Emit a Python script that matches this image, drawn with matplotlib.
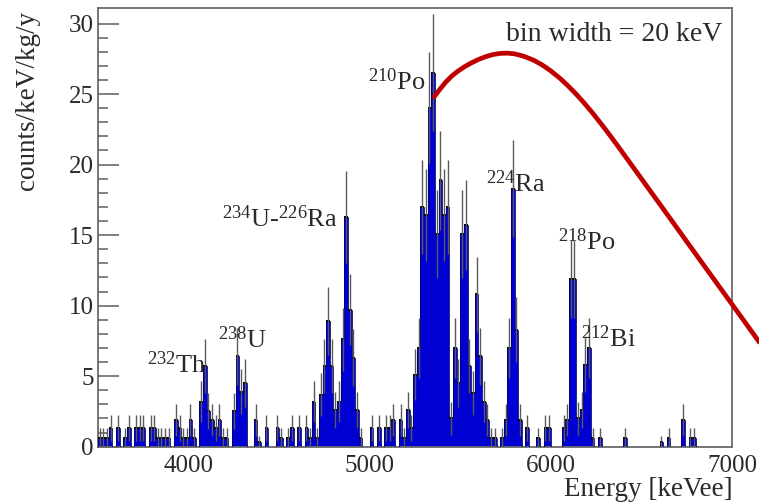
import numpy as np
import matplotlib
matplotlib.use("Agg")
import matplotlib.pyplot as plt

# ---------------- data (counts/keV/kg/y per 20 keV bin) ----------------
energy_start = 3500   # keV, first bin low edge
bin_width = 20        # keV
rate_3500_3980 = [0.65, 0.65, 0.65, 1.3, 0, 1.3, 0, 0.65, 1.3, 0, 1.3, 1.3, 1.3, 0,
                  1.3, 1.3, 0.65, 0.65, 0.65, 0.65, 0, 1.9, 1.3, 0.65, 0.65]
rate_4000_4480 = [1.9, 0.65, 0, 3.2, 5.7, 2.55, 1.9, 1.3, 1.9, 0.65, 0.65, 0, 2.55,
                  6.4, 3.9, 4.5, 0, 0, 1.9, 0.3, 0, 1.3, 0, 0, 1.3]
rate_4500_4980 = [0.65, 0, 0.65, 1.3, 0, 1.3, 0, 1.3, 0.65, 3.2, 0.65, 3.7, 5.7,
                  8.9, 5.7, 2.6, 3.2, 7.6, 16.3, 9.7, 6.3, 2.6, 0.65, 0, 0]
rate_5000_5480 = [1.3, 0, 1.3, 0, 1.3, 1.3, 1.9, 0, 1.9, 0.65, 2.6, 1.3, 5.1, 7.0,
                  17.0, 16.4, 24.0, 26.5, 15.1, 18.9, 16.4, 17.0, 2.0, 7.0, 4.5]
rate_5500_5980 = [15.1, 15.7, 5.7, 3.8, 10.8, 6.4, 3.2, 1.9, 0.65, 0.65, 0, 0.65,
                  1.9, 7.0, 18.3, 8.3, 1.9, 0, 1.3, 0, 0, 0.65, 0, 1.3, 1.3]
rate_6000_6480 = [0, 0, 0, 1.3, 1.9, 11.9, 11.9, 2.0, 2.6, 5.8, 7.0, 0.65, 0, 0.65,
                  0, 0, 0, 0, 0, 0, 0.65, 0, 0, 0, 0]
rate_6500_6980 = [0, 0, 0, 0, 0, 0.3, 0, 0.65, 0, 0, 0, 1.9, 0, 0.65, 0.65, 0, 0,
                  0, 0, 0, 0, 0, 0, 0, 0]
rate_per_count = 0.65  # rate of a single count in a bin (for Poisson errors)

# red curve
curve_energy = [5350, 5385, 5420, 5455, 5490, 5525, 5560, 5600, 5640, 5680, 5720,
                5760, 5800, 5850, 5905, 5950, 6000, 6050, 6095, 6140, 6185, 6230,
                6280, 6325, 6370, 6415, 6460, 6510, 6555, 6600, 6650, 6695, 6740,
                6785, 6830, 6875, 6920, 6965, 7010, 7050, 7090, 7125, 7160]
curve_rate = [24.7, 25.3, 25.85, 26.3, 26.65, 26.95, 27.2, 27.45, 27.65, 27.8, 27.88,
              27.9, 27.85, 27.68, 27.4, 27.08, 26.64, 26.12, 25.58, 24.99, 24.35,
              23.66, 22.85, 22.09, 21.31, 20.51, 19.71, 18.82, 18.02, 17.22, 16.33,
              15.53, 14.72, 13.92, 13.12, 12.32, 11.52, 10.72, 9.92, 9.21, 8.5,
              7.87, 7.25]

label_texts = [r"$^{232}$Th", r"$^{238}$U", r"$^{234}$U-$^{226}$Ra", r"$^{210}$Po",
               r"$^{224}$Ra", r"$^{218}$Po", r"$^{212}$Bi"]
label_energy = [3771, 4164, 4186, 4989, 5642, 6040, 6167]
label_rate = [5.2, 7.0, 15.6, 25.3, 18.05, 13.95, 7.1]

# ---------------- style ----------------
plt.rcParams["font.family"] = ["Liberation Serif", "DejaVu Serif"]
plt.rcParams["mathtext.fontset"] = "custom"
plt.rcParams["mathtext.rm"] = "Liberation Serif"
plt.rcParams["mathtext.it"] = "Liberation Serif:italic"
plt.rcParams["mathtext.bf"] = "Liberation Serif:bold"

rates = np.array(rate_3500_3980 + rate_4000_4480 + rate_4500_4980 + rate_5000_5480
                 + rate_5500_5980 + rate_6000_6480 + rate_6500_6980, dtype=float)
edges = energy_start + bin_width * np.arange(len(rates) + 1)
centers = 0.5 * (edges[:-1] + edges[1:])
errors = np.sqrt(rates * rate_per_count)

fig = plt.figure(figsize=(7.59, 5.04), dpi=100)
ax = fig.add_axes([98 / 759, 1 - 446.7 / 504, 634 / 759, 438.7 / 504])

text_col = "#2a2a2a"
frame_col = "#6a6a6a"

ax.stairs(rates, edges, fill=True, color="#0000d2", zorder=2)
ax.stairs(rates, edges, color="#00006a", linewidth=0.6, zorder=3)
nz = rates > 0
ax.hlines(rates[nz], edges[:-1][nz], edges[1:][nz], color="black",
          linewidth=1.4, zorder=3.5)
ax.errorbar(centers[nz], rates[nz], yerr=errors[nz], fmt="none",
            ecolor="#5a5a5a", elinewidth=1.0, capsize=0, zorder=4)

ax.plot(curve_energy, curve_rate, color="#c00000", linewidth=3.4,
        solid_capstyle="butt", solid_joinstyle="round", clip_on=False, zorder=10)

ax.set_xlim(3500, 7000)
ax.set_ylim(0, 31.1)
ax.set_xticks([4000, 5000, 6000, 7000])
ax.set_yticks([0, 5, 10, 15, 20, 25, 30])
ax.set_yticks(np.arange(0, 31, 1), minor=True)
ax.tick_params(axis="y", which="major", direction="in", length=15, width=1.2,
               color=frame_col, labelsize=18, labelcolor=text_col, pad=3)
ax.tick_params(axis="y", which="minor", direction="in", length=7.5, width=1.2,
               color=frame_col)
ax.tick_params(axis="x", which="both", length=0, labelsize=18,
               labelcolor=text_col, pad=6)
for s in ax.spines.values():
    s.set_color(frame_col)
    s.set_linewidth(1.3)

for t, xe, yr in zip(label_texts, label_energy, label_rate):
    ax.text(xe, yr, t, fontsize=19, color=text_col, ha="left", va="baseline",
            zorder=6)

ax.text(0.984, 0.925, "bin width = 20 keV", transform=ax.transAxes, fontsize=20,
        color=text_col, ha="right", va="baseline")

fig.text(28 / 759, 1 - 100 / 504, "counts/keV/kg/y", rotation=90, fontsize=19.5,
         color=text_col, ha="center", va="center")
fig.text(733 / 759, 1 - 496 / 504, "Energy [keVee]", fontsize=19.5, color=text_col,
         ha="right", va="baseline")

fig.savefig("out.png", dpi=100)
